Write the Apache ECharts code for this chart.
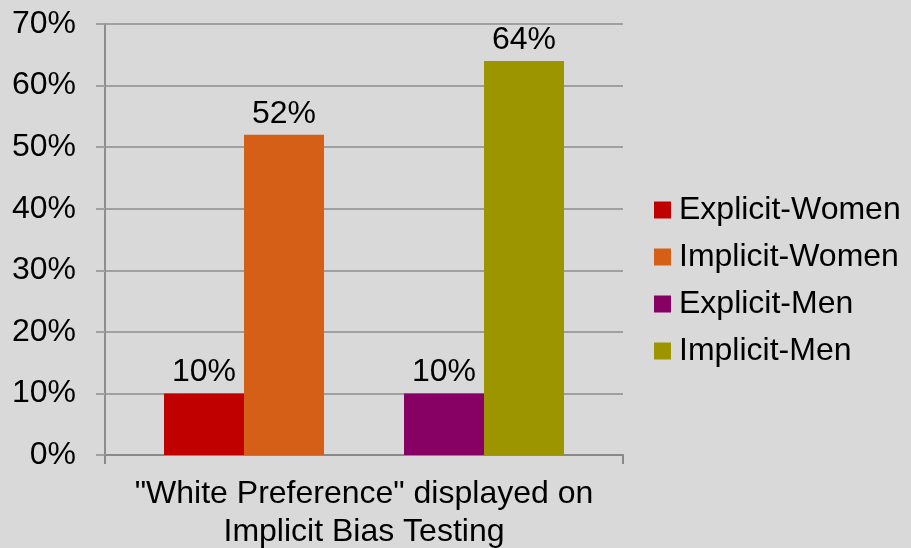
<!DOCTYPE html>
<html>
<head>
<meta charset="utf-8">
<script src="https://cdn.jsdelivr.net/npm/echarts@6/dist/echarts.min.js"></script>
<style>
html,body{margin:0;padding:0;background:#d9d9d9;}
#c{width:911px;height:548px;}
</style>
</head>
<body>
<div id="c"></div>
<script>
var categories = ['"White Preference" displayed on\nImplicit Bias Testing'];
var seriesNames = ['Explicit-Women', 'Implicit-Women', 'Explicit-Men', 'Implicit-Men'];
var explicitWomen = [10];
var implicitWomen = [52];
var explicitMen = [10];
var implicitMen = [64];
var yTicks = [0, 10, 20, 30, 40, 50, 60, 70];

var colors = ['#C00000', '#D55F17', '#870063', '#9C9500'];
var font = 'Liberation Sans, Arial, sans-serif';
var fs = 32;
var labelStyle = {show: true, position: 'top', formatter: '{c}%', color: '#000', fontSize: fs, fontFamily: font, distance: 5};

function bar(name, data, color) {
  return {name: name, type: 'bar', data: data, barWidth: 80, barGap: '0%',
    itemStyle: {color: color}, label: labelStyle};
}

var chart = echarts.init(document.getElementById('c'));
chart.setOption({
  backgroundColor: '#d9d9d9',
  animation: false,
  grid: {left: 105, right: 288, top: 24, bottom: 93, containLabel: false, outerBoundsMode: 'none'},
  legend: {
    orient: 'vertical', left: 654, top: 194, padding: 0,
    data: seriesNames,
    icon: 'rect', itemWidth: 17, itemHeight: 17, itemGap: 15,
    textStyle: {fontSize: fs, fontFamily: font, color: '#000', padding: [0, 0, 0, 3]}
  },
  xAxis: {
    type: 'category', data: categories,
    axisLine: {lineStyle: {color: '#898989', width: 2}},
    axisTick: {show: true, length: 9, lineStyle: {color: '#898989', width: 2}},
    axisLabel: {fontSize: fs, fontFamily: font, color: '#000', lineHeight: 38, margin: 20}
  },
  yAxis: {
    type: 'value', min: yTicks[0], max: yTicks[yTicks.length - 1], interval: 10,
    axisLine: {show: true, lineStyle: {color: '#8c8c8c', width: 2}},
    axisTick: {show: true, length: 9, lineStyle: {color: '#a0a0a0', width: 2}},
    splitLine: {lineStyle: {color: '#a0a0a0', width: 2}},
    axisLabel: {formatter: '{value}%', fontSize: fs, fontFamily: font, color: '#000', margin: 29}
  },
  series: [
    bar(seriesNames[0], explicitWomen, colors[0]),
    bar(seriesNames[1], implicitWomen, colors[1]),
    {name: 'gap', type: 'bar', data: [null], barWidth: 80, barGap: '0%'},
    bar(seriesNames[2], explicitMen, colors[2]),
    bar(seriesNames[3], implicitMen, colors[3])
  ]
});
</script>
</body>
</html>
